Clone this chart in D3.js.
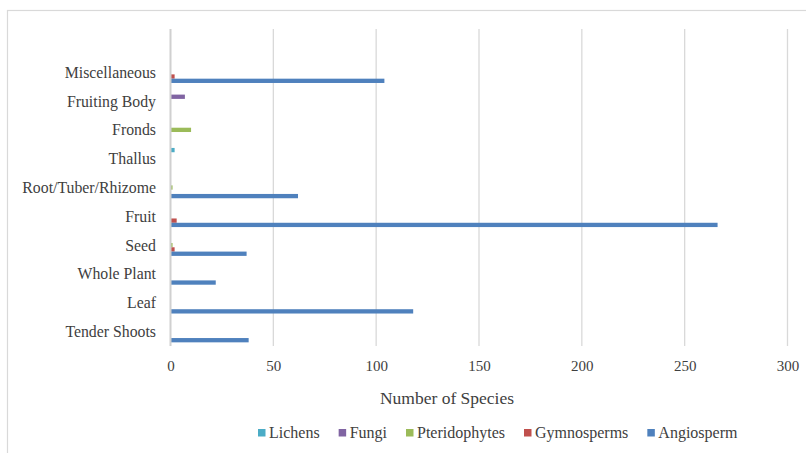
<!DOCTYPE html>
<html>
<head>
<meta charset="utf-8">
<script src="https://cdn.jsdelivr.net/npm/d3@7"></script>
<style>
  body { margin: 0; background: #fff; }
  svg text { font-family: "Liberation Serif", "Times New Roman", Times, serif; }
</style>
</head>
<body>
<div id="chart"></div>
<script>
// Data (categories listed bottom to top, as in the original)
const categories = ["Tender Shoots", "Leaf", "Whole Plant", "Seed", "Fruit",
  "Root/Tuber/Rhizome", "Thallus", "Fronds", "Fruiting Body", "Miscellaneous"];
const seriesNames = ["Lichens", "Fungi", "Pteridophytes", "Gymnosperms", "Angiosperm"];
const lichens       = [0, 0, 0, 0, 0, 0, 2, 0, 0, 0];
const fungi         = [0, 0, 0, 0, 0, 0, 0, 0, 7, 0];
const pteridophytes = [0, 0, 0, 1, 0, 1, 0, 10, 0, 0];
const gymnosperms   = [0, 0, 0, 2, 3, 0, 0, 0, 0, 2];
const angiosperm    = [38, 118, 22, 37, 266, 62, 0, 0, 0, 104];
const xTicks = [0, 50, 100, 150, 200, 250, 300];
const colors = ["#4bacc6", "#8064a2", "#9bbb59", "#c0504d", "#4f81bd"];

const seriesValues = [lichens, fungi, pteridophytes, gymnosperms, angiosperm];

const W = 806, H = 453;
const plot = { left: 170.5, right: 787.5, top: 29, bottom: 346 };

const svg = d3.select("#chart").append("svg")
  .attr("width", W)
  .attr("height", H)
  .attr("font-family", "Liberation Serif, serif");

// outer chart frame
svg.append("rect")
  .attr("x", 7.5).attr("y", 10.5)
  .attr("width", 820).attr("height", 460)
  .attr("fill", "none")
  .attr("stroke", "#d9d9d9")
  .attr("stroke-width", 1.2);

// Scales
const x = d3.scaleLinear().domain([0, 300]).range([plot.left, plot.right]);

// top slot is an empty category in the original
const yDomain = [" "].concat(categories.slice().reverse());
const y = d3.scaleBand()
  .domain(yDomain)
  .range([plot.top, plot.bottom])
  .paddingInner(0.254)
  .paddingOuter(0.127);

const ySub = d3.scaleBand()
  .domain(seriesNames)
  .range([0, y.bandwidth()]);

// Gridlines
svg.append("g")
  .selectAll("line")
  .data(xTicks.slice(1))
  .join("line")
  .attr("x1", d => x(d)).attr("x2", d => x(d))
  .attr("y1", plot.top).attr("y2", plot.bottom)
  .attr("stroke", "#d9d9d9")
  .attr("stroke-width", 1.3);

// X tick labels
const xAxis = svg.append("g")
  .attr("transform", `translate(0,${plot.bottom})`)
  .call(d3.axisBottom(x).tickValues(xTicks).tickSize(0).tickPadding(14))
  .attr("font-family", null)
  .attr("font-size", null);
xAxis.select(".domain").remove();
xAxis.selectAll("text")
  .attr("font-size", "15px")
  .attr("fill", "#404040");

// Bars
const groups = svg.append("g")
  .selectAll("g")
  .data(seriesNames)
  .join("g")
  .attr("fill", (d, i) => colors[i]);

groups.selectAll("rect")
  .data((s, i) => categories.map((c, j) => ({ cat: c, series: s, value: seriesValues[i][j] })))
  .join("rect")
  .filter(d => d.value > 0)
  .attr("x", x(0))
  .attr("y", d => y(d.cat) + ySub(d.series))
  .attr("width", d => x(d.value) - x(0))
  .attr("height", ySub.bandwidth());

// vertical axis line
svg.append("line")
  .attr("x1", plot.left).attr("x2", plot.left)
  .attr("y1", plot.top).attr("y2", plot.bottom)
  .attr("stroke", "#d0d0d0")
  .attr("stroke-width", 2);

// Category labels
svg.append("g")
  .selectAll("text")
  .data(categories)
  .join("text")
  .attr("x", 156)
  .attr("y", d => y(d) + y.bandwidth() / 2 + 5.5)
  .attr("text-anchor", "end")
  .attr("font-size", "15.8px")
  .attr("fill", "#404040")
  .text(d => d);

// Axis title
svg.append("text")
  .attr("x", 447)
  .attr("y", 404)
  .attr("text-anchor", "middle")
  .attr("font-size", "17.5px")
  .attr("fill", "#404040")
  .text("Number of Species");

// Legend
const legend = svg.append("g").attr("transform", "translate(258,433)");
let lx = 0;
seriesNames.forEach((name, i) => {
  const item = legend.append("g").attr("transform", `translate(${lx},0)`);
  item.append("rect")
    .attr("x", 0).attr("y", -4)
    .attr("width", 7.5).attr("height", 7.5)
    .attr("fill", colors[i]);
  const t = item.append("text")
    .attr("x", 11)
    .attr("y", 5.2)
    .attr("font-size", "16px")
    .attr("fill", "#404040")
    .text(name);
  lx += 11 + t.node().getComputedTextLength() + 19;
});
</script>
</body>
</html>
